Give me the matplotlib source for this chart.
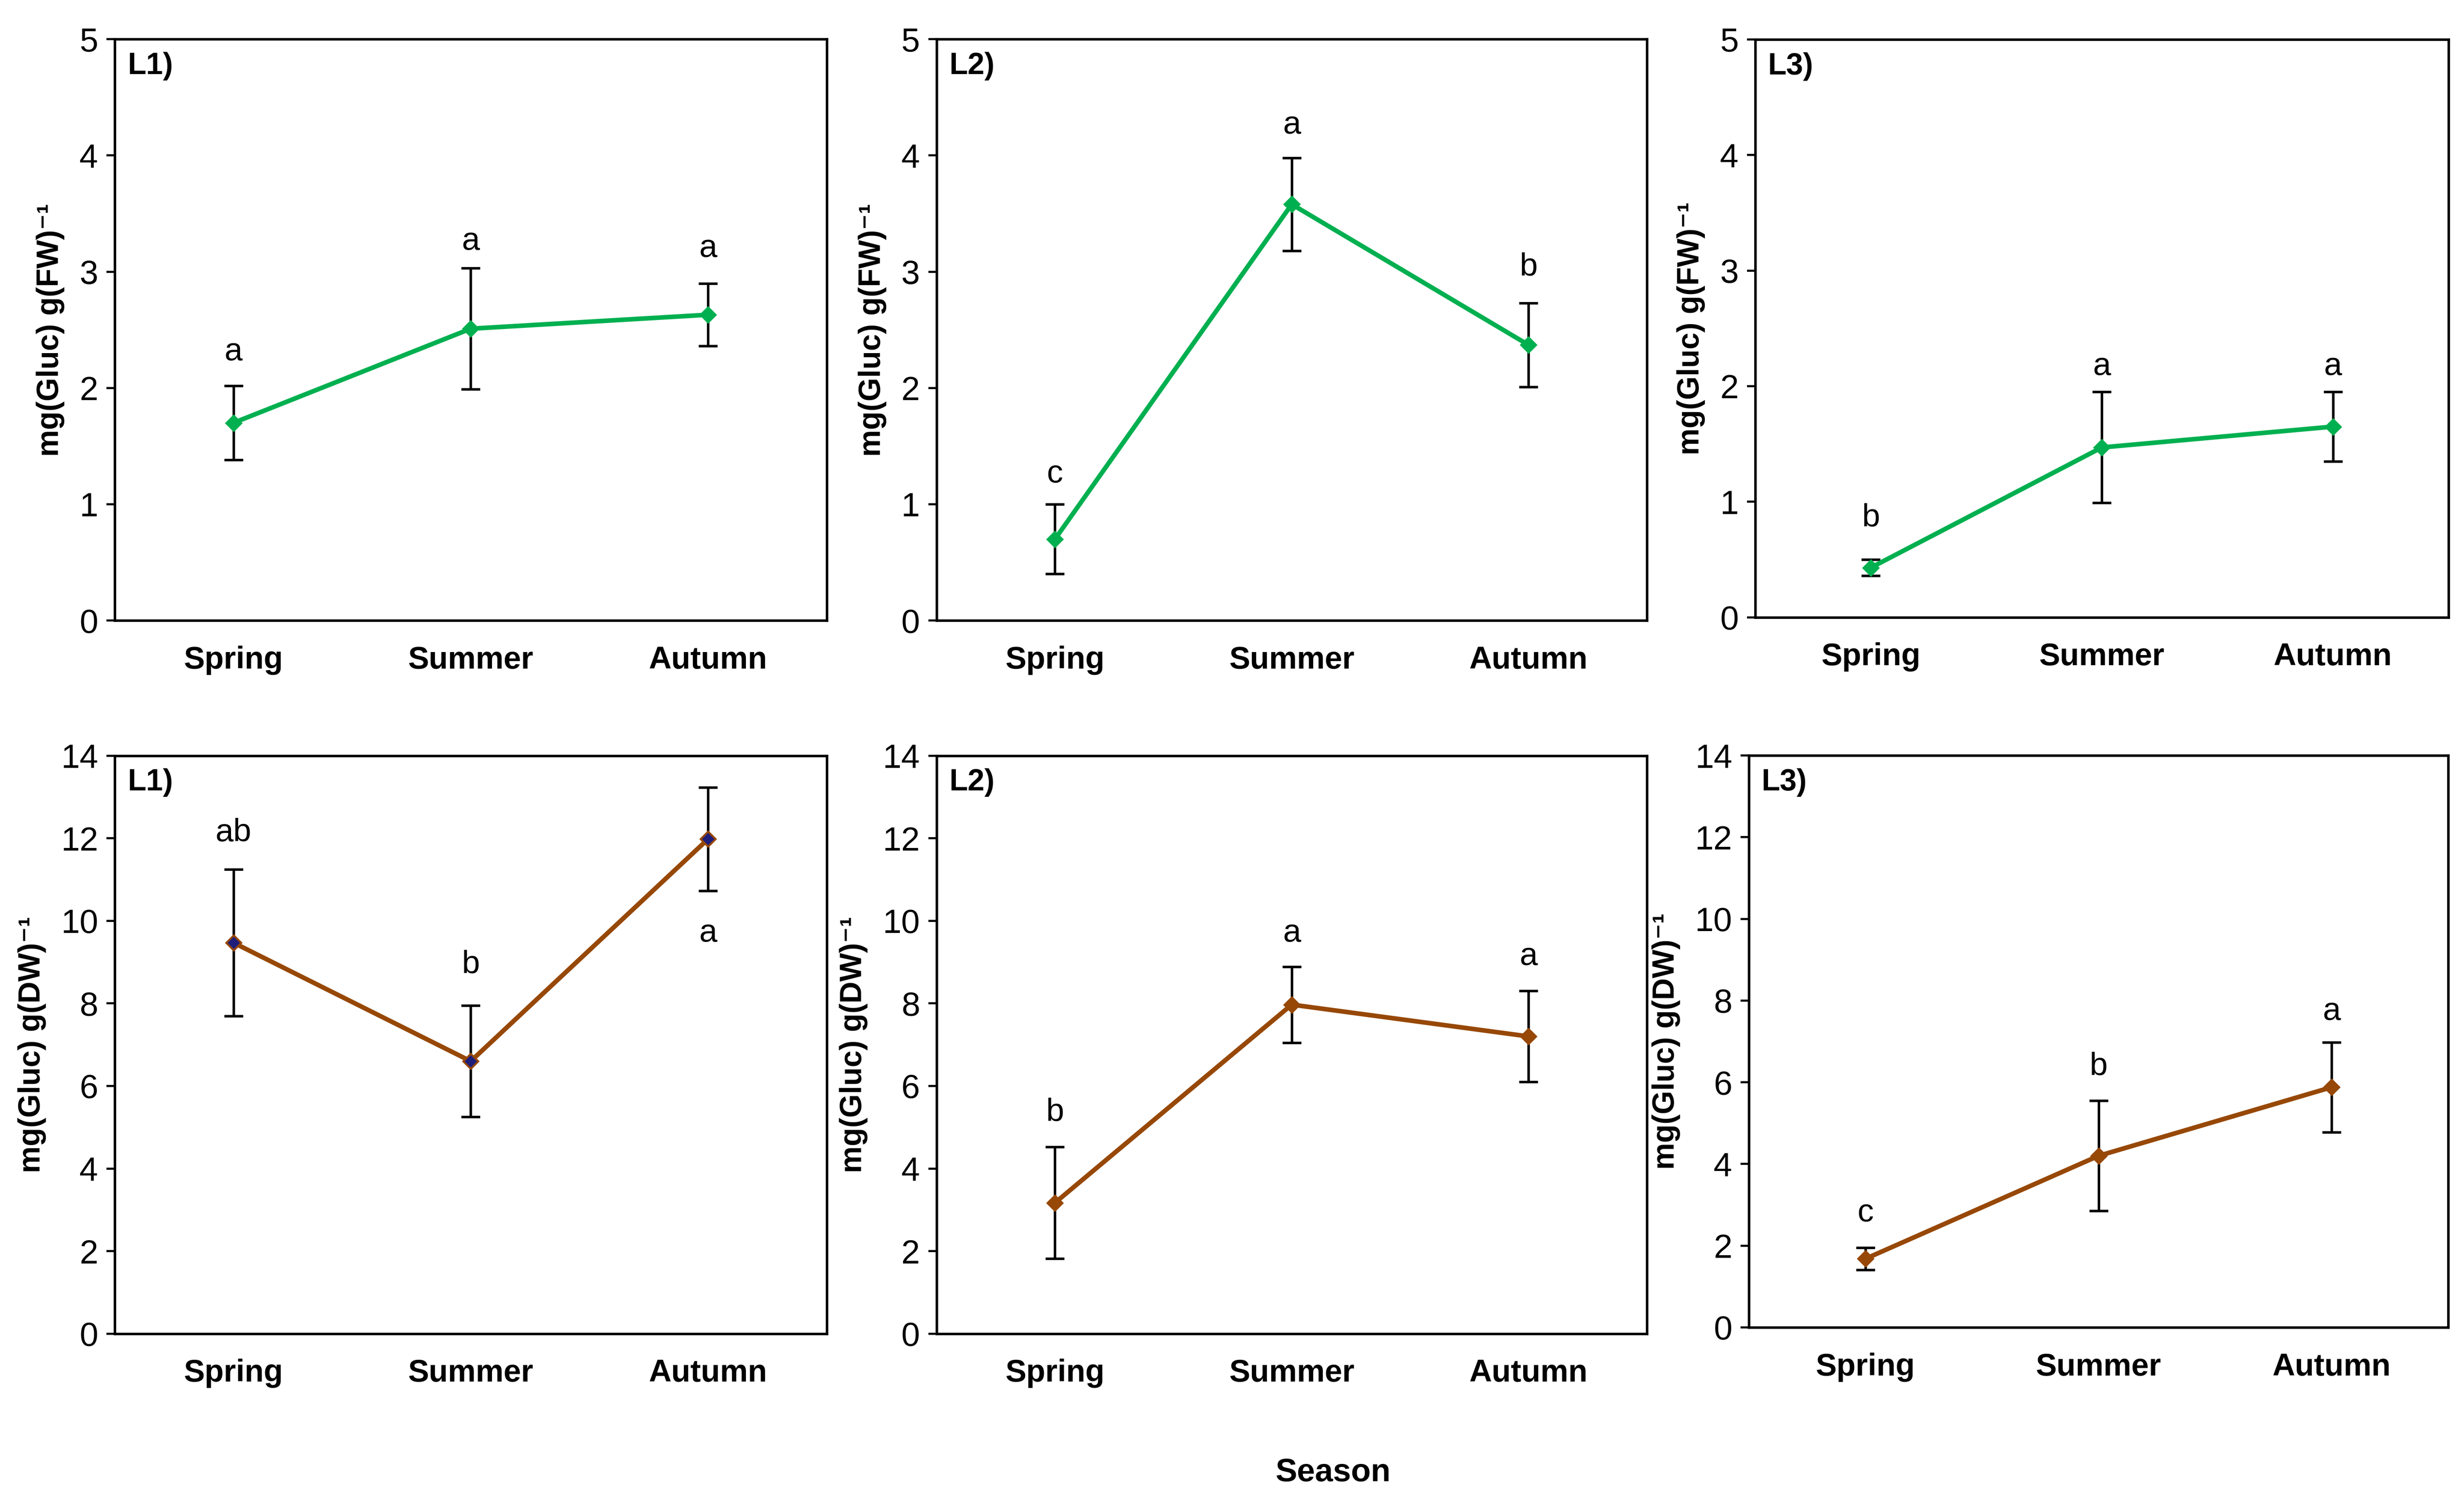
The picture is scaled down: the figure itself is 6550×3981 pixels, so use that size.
import matplotlib
matplotlib.use("Agg")
import matplotlib.pyplot as plt

plt.rcParams['font.family'] = ['Liberation Sans', 'DejaVu Sans']

seasons = ['Spring', 'Summer', 'Autumn']
x = [1, 2, 3]

# fresh weight panels (top row)
fw_l1 = [1.70, 2.51, 2.63]
fw_l1_err = [0.32, 0.52, 0.27]
fw_l1_let = ['a', 'a', 'a']
fw_l1_let_y = [2.31, 3.26, 3.20]

fw_l2 = [0.70, 3.58, 2.37]
fw_l2_err = [0.30, 0.40, 0.36]
fw_l2_let = ['c', 'a', 'b']
fw_l2_let_y = [1.26, 4.26, 3.04]

fw_l3 = [0.43, 1.47, 1.65]
fw_l3_err = [0.07, 0.48, 0.30]
fw_l3_let = ['b', 'a', 'a']
fw_l3_let_y = [0.86, 2.17, 2.17]

# dry weight panels (bottom row)
dw_l1 = [9.47, 6.60, 11.98]
dw_l1_err = [1.78, 1.35, 1.25]
dw_l1_let = ['ab', 'b', 'a']
dw_l1_let_y = [12.13, 8.94, 9.70]

dw_l2 = [3.17, 7.97, 7.20]
dw_l2_err = [1.35, 0.92, 1.10]
dw_l2_let = ['b', 'a', 'a']
dw_l2_let_y = [5.36, 9.70, 9.13]

dw_l3 = [1.68, 4.20, 5.88]
dw_l3_err = [0.27, 1.35, 1.10]
dw_l3_let = ['c', 'b', 'a']
dw_l3_let_y = [2.80, 6.38, 7.73]

green = '#00B050'
brown = '#974806'

fig = plt.figure(figsize=(16.375, 9.9525), dpi=400)

# axes rectangles [left, bottom, width, height]
panels = [
    ([0.0466, 0.5855, 0.2889, 0.3883], fw_l1, fw_l1_err, fw_l1_let, fw_l1_let_y, 'L1)', 'FW', green, green),
    ([0.3801, 0.5855, 0.2883, 0.3883], fw_l2, fw_l2_err, fw_l2_let, fw_l2_let_y, 'L2)', 'FW', green, green),
    ([0.7124, 0.5876, 0.2813, 0.3861], fw_l3, fw_l3_err, fw_l3_let, fw_l3_let_y, 'L3)', 'FW', green, green),
    ([0.0466, 0.1091, 0.2889, 0.3861], dw_l1, dw_l1_err, dw_l1_let, dw_l1_let_y, 'L1)', 'DW', brown, '#1F1F7A'),
    ([0.3801, 0.1091, 0.2883, 0.3861], dw_l2, dw_l2_err, dw_l2_let, dw_l2_let_y, 'L2)', 'DW', brown, brown),
    ([0.7098, 0.1133, 0.2838, 0.3820], dw_l3, dw_l3_err, dw_l3_let, dw_l3_let_y, 'L3)', 'DW', brown, brown),
]

for rect, vals, errs, lets, let_y, tag, basis, col, mcol in panels:
    ax = fig.add_axes(rect)
    ax.errorbar(x, vals, yerr=errs, fmt='none', ecolor='black', elinewidth=1.2,
                capsize=4.5, capthick=1.2, zorder=2)
    ax.plot(x, vals, color=col, lw=2.2, marker='D', markersize=5,
             markerfacecolor=mcol, markeredgecolor=col, markeredgewidth=0.9, zorder=3)
    for xi, t, yy in zip(x, lets, let_y):
        ax.text(xi, yy, t, ha='center', va='center', fontsize=15.5)
    ax.text(0.018, 0.978, tag, transform=ax.transAxes, ha='left', va='top',
            fontsize=14.5, fontweight='bold')
    ax.set_xlim(0.5, 3.5)
    if basis == 'FW':
        ax.set_ylim(0, 5)
        ax.set_yticks(range(0, 6))
    else:
        ax.set_ylim(0, 14)
        ax.set_yticks(range(0, 15, 2))
    ax.set_xticks(x)
    ax.set_xticklabels(seasons, fontsize=15, fontweight='bold')
    ax.tick_params(axis='x', length=0, pad=12)
    ax.tick_params(axis='y', direction='out', length=4, width=1, labelsize=16, pad=4)
    ax.set_ylabel('mg(Gluc) g(' + basis + ')\u207b\u00b9', fontsize=14.5, fontweight='bold',
                  labelpad=7)
    for sp in ax.spines.values():
        sp.set_linewidth(1.2)
        sp.set_color('black')

fig.text(0.541, 0.016, 'Season', ha='center', va='center', fontsize=15.5, fontweight='bold')

fig.savefig('out.png', dpi=400, facecolor='white')
